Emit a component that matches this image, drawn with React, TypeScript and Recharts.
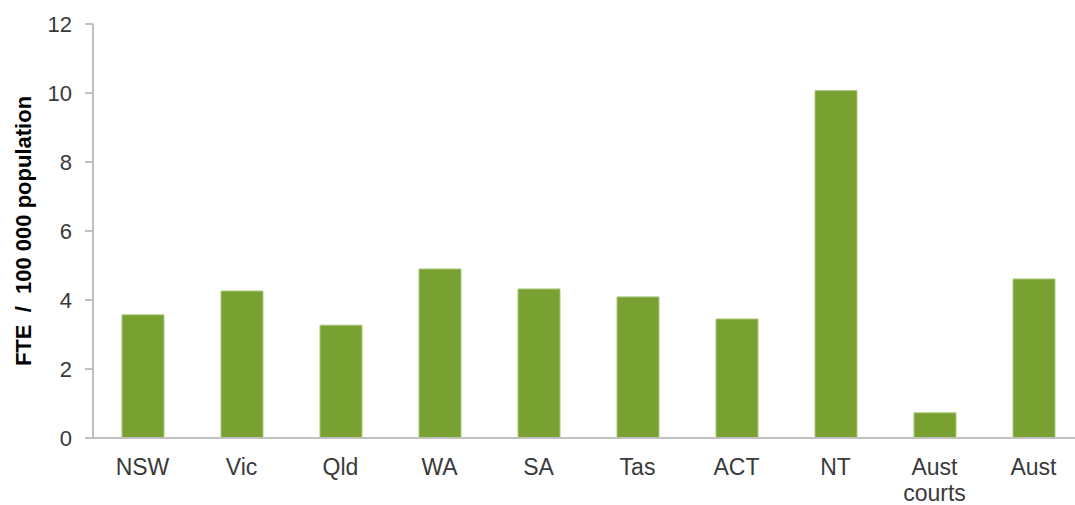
import { BarChart, Bar, XAxis, YAxis, Label } from 'recharts';

// FTE per 100 000 population, by jurisdiction
const categories = ['NSW', 'Vic', 'Qld', 'WA', 'SA', 'Tas', 'ACT', 'NT', 'Aust courts', 'Aust'];
const fteValues = [3.57, 4.26, 3.27, 4.9, 4.32, 4.09, 3.45, 10.07, 0.73, 4.61];
const yTicks = [0, 2, 4, 6, 8, 10, 12];

const data = categories.map((name, i) => ({ name, fte: fteValues[i] }));

const FONT = '"Liberation Sans", Arial, sans-serif';
const TEXT = '#3a3a3a';
const AXIS = '#c0c0c0';

// multi-word category names wrap onto a second line
function CategoryTick({ x, y, payload }: any) {
  const lines = String(payload.value).split(' ');
  return (
    <text x={x} y={y} textAnchor="middle" fill={TEXT} fontSize={23} fontFamily={FONT}>
      {lines.map((l, i) => (
        <tspan key={i} x={x} dy={i === 0 ? 16.5 : 26}>{l}</tspan>
      ))}
    </text>
  );
}

export default function App() {
  return (
    <div style={{ position: 'absolute', left: 0, top: 0, width: 1075, height: 505, overflow: 'hidden', background: '#fff' }}>
      <BarChart
        width={1090}
        height={505}
        data={data}
        margin={{ top: 24, right: 7, left: 0, bottom: 6 }}
      >
        <XAxis
          dataKey="name"
          interval={0}
          height={61}
          tickLine={false}
          tickSize={0}
          tickMargin={20}
          axisLine={{ stroke: AXIS, strokeWidth: 2 }}
          tick={<CategoryTick />}
        />
        <YAxis
          width={93}
          domain={[0, 12]}
          ticks={yTicks}
          interval={0}
          tickSize={8}
          tickMargin={13}
          axisLine={{ stroke: AXIS, strokeWidth: 2 }}
          tickLine={{ stroke: AXIS, strokeWidth: 2 }}
          tick={{ fill: TEXT, fontSize: 22, fontFamily: FONT }}
        >
          <Label
            content={({ viewBox }: any) => {
              const cy = viewBox.y + viewBox.height / 2;
              return (
                <text
                  x={31}
                  y={cy}
                  transform={`rotate(-90, 31, ${cy})`}
                  textAnchor="middle"
                  fill="#000"
                  fontSize={22}
                  fontWeight="bold"
                  fontFamily={FONT}
                  style={{ whiteSpace: 'pre' }}
                >
                  {'FTE  /  100 000 population'}
                </text>
              );
            }}
          />
        </YAxis>
        <Bar dataKey="fte" fill="#79a131" stroke="#a9c97f" strokeWidth={1} barSize={42} isAnimationActive={false} />
      </BarChart>
    </div>
  );
}
